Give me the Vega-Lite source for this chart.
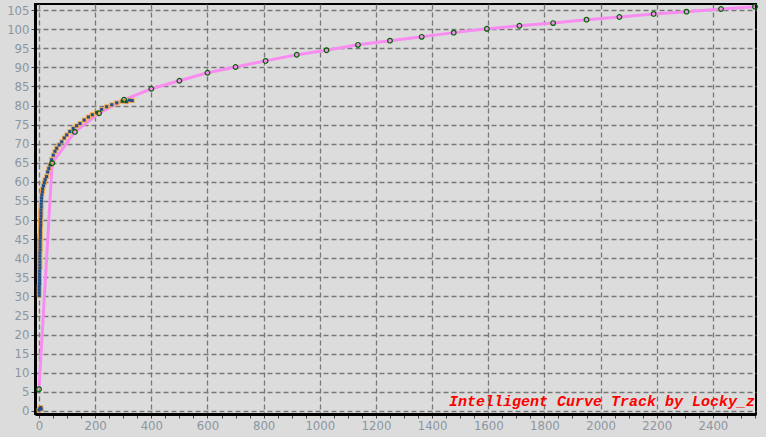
{
  "$schema": "https://vega.github.io/schema/vega-lite/v6.json",
  "autosize": {"type": "none"},
  "width": 721,
  "height": 410,
  "padding": {"left": 35, "top": 4, "right": 10, "bottom": 23},
  "background": "#DCDCDC",
  "config": {
    "view": {"stroke": "#000000", "strokeWidth": 2, "fill": "#DCDCDC"},
    "axis": {
      "labelFont": "Liberation Sans Narrow, DejaVu Sans Condensed, Liberation Sans",
      "labelFontSize": 13,
      "labelColor": "#8C96A0",
      "tickColor": "#444444",
      "tickSize": 4,
      "domainColor": "#000000",
      "domainWidth": 3,
      "gridColor": "#777777",
      "gridDash": [5, 3],
      "gridWidth": 1.3,
      "title": null
    }
  },
  "datasets": {
    "pink": [
      {"x": 0, "y": 5.7}, {"x": 47, "y": 64.9}, {"x": 128, "y": 73.1}, {"x": 214, "y": 78.0},
      {"x": 303, "y": 81.5}, {"x": 400, "y": 84.4}, {"x": 500, "y": 86.5}, {"x": 600, "y": 88.6},
      {"x": 700, "y": 90.1}, {"x": 807, "y": 91.7}, {"x": 918, "y": 93.3}, {"x": 1024, "y": 94.5},
      {"x": 1136, "y": 95.9}, {"x": 1250, "y": 97.0}, {"x": 1363, "y": 98.0}, {"x": 1477, "y": 99.1},
      {"x": 1595, "y": 100.1}, {"x": 1711, "y": 100.9}, {"x": 1831, "y": 101.6}, {"x": 1950, "y": 102.5},
      {"x": 2067, "y": 103.2}, {"x": 2189, "y": 104.0}, {"x": 2306, "y": 104.6}, {"x": 2429, "y": 105.3},
      {"x": 2550, "y": 105.9}
    ],
    "red": [
      {"x": 0, "y": 30}, {"x": -3, "y": 32}, {"x": 1, "y": 34}, {"x": -4, "y": 36}, {"x": 0, "y": 38},
      {"x": -3, "y": 40}, {"x": 2, "y": 41.5}, {"x": -2, "y": 43}, {"x": 1, "y": 45}, {"x": -1, "y": 46.5},
      {"x": 3, "y": 48}, {"x": 0, "y": 49.5}, {"x": 4, "y": 51}, {"x": 2, "y": 52.5}, {"x": 6, "y": 54},
      {"x": 4, "y": 55.5}, {"x": 9, "y": 56.5}, {"x": 7, "y": 57}
    ],
    "blue": [
      {"x": 1, "y": 30}, {"x": 2, "y": 36}, {"x": 3, "y": 42}, {"x": 5, "y": 48}, {"x": 7, "y": 53}, {"x": 10, "y": 57}
    ],
    "fit": [
      {"x": 1, "y": 30.2}, {"x": 1, "y": 31}, {"x": 1, "y": 31.8}, {"x": 1, "y": 32.6}, {"x": 2, "y": 33.4},
      {"x": 2, "y": 34.2}, {"x": 2, "y": 35}, {"x": 2, "y": 35.8}, {"x": 2, "y": 36.6}, {"x": 3, "y": 37.4},
      {"x": 3, "y": 38.2}, {"x": 3, "y": 39}, {"x": 3, "y": 39.8}, {"x": 3, "y": 40.6}, {"x": 3, "y": 41.4},
      {"x": 4, "y": 42.2}, {"x": 4, "y": 43}, {"x": 4, "y": 43.8}, {"x": 4, "y": 44.6}, {"x": 5, "y": 45.4},
      {"x": 5, "y": 46.2}, {"x": 5, "y": 47}, {"x": 5, "y": 47.8}, {"x": 6, "y": 48.6}, {"x": 6, "y": 49.4},
      {"x": 6, "y": 50.2}, {"x": 7, "y": 51}, {"x": 7, "y": 51.8}, {"x": 7, "y": 52.6}, {"x": 8, "y": 53.4},
      {"x": 8, "y": 54.2}, {"x": 9, "y": 55}, {"x": 9, "y": 55.8}, {"x": 10, "y": 56.6}, {"x": 12, "y": 57.4},
      {"x": 13, "y": 58.2}, {"x": 16, "y": 59}, {"x": 19, "y": 59.8}, {"x": 22, "y": 60.6}, {"x": 27, "y": 61.4},
      {"x": 31, "y": 62.6}, {"x": 35, "y": 63.5}, {"x": 39, "y": 64.4}, {"x": 45, "y": 65.8}, {"x": 51, "y": 67},
      {"x": 57, "y": 68}, {"x": 63, "y": 68.8}, {"x": 72, "y": 69.7}, {"x": 81, "y": 70.5}, {"x": 90, "y": 71.5},
      {"x": 99, "y": 72.3}, {"x": 110, "y": 73.2}, {"x": 122, "y": 74}, {"x": 134, "y": 74.7}, {"x": 146, "y": 75.3},
      {"x": 161, "y": 76.2}, {"x": 176, "y": 77}, {"x": 190, "y": 77.6}, {"x": 205, "y": 78.2}, {"x": 223, "y": 79},
      {"x": 241, "y": 79.7}, {"x": 259, "y": 80.2}, {"x": 277, "y": 80.7}, {"x": 296, "y": 81.1}, {"x": 312, "y": 81.0},
      {"x": 322, "y": 81.4}, {"x": 332, "y": 81.3},
      {"x": 0, "y": 0.2}, {"x": 3, "y": 0.6}, {"x": 6, "y": 0.9}, {"x": 8, "y": 0.5}
    ]
  },
  "layer": [
    {
      "encoding": {
        "x": {
          "field": "x", "type": "quantitative",
          "scale": {"domain": [-14.2, 2553.5], "nice": false, "zero": false},
          "axis": {
            "values": [0,50,100,150,200,250,300,350,400,450,500,550,600,650,700,750,800,850,900,950,1000,1050,1100,1150,1200,1250,1300,1350,1400,1450,1500,1550,1600,1650,1700,1750,1800,1850,1900,1950,2000,2050,2100,2150,2200,2250,2300,2350,2400,2450,2500,2550],
            "labelExpr": "datum.value % 200 == 0 ? '' + datum.value : ''",
            "labelPadding": 1,
            "labelFlush": false,
            "labelOverlap": false,
            "grid": true,
            "gridOpacity": {"condition": {"test": "datum.value % 200 == 0", "value": 1}, "value": 0}
          }
        },
        "y": {
          "field": "y", "type": "quantitative",
          "scale": {"domain": [-0.8, 106.6], "nice": false, "zero": false},
          "axis": {
            "values": [0,5,10,15,20,25,30,35,40,45,50,55,60,65,70,75,80,85,90,95,100,105],
            "labelPadding": 2,
            "labelOverlap": false,
            "grid": true
          }
        }
      },
      "layer": [
        {"data": {"name": "pink"}, "mark": {"type": "line", "color": "#F98CF0", "strokeWidth": 3}},
        {"data": {"name": "red"}, "mark": {"type": "line", "color": "#FF3C00", "strokeWidth": 2}},
        {"data": {"name": "blue"}, "mark": {"type": "line", "color": "#1E5AA0", "strokeWidth": 2.5}},
        {"data": {"name": "fit"}, "mark": {"type": "point", "shape": "square", "filled": true, "size": 24, "color": "#F0A850", "opacity": 1}},
        {"data": {"name": "fit"}, "mark": {"type": "point", "shape": "square", "filled": true, "size": 9, "color": "#1E4F91", "opacity": 1}},
        {"data": {"name": "pink"}, "mark": {"type": "point", "shape": "circle", "filled": false, "size": 22, "stroke": "#006400", "strokeWidth": 1.2, "opacity": 1}}
      ]
    },
    {
      "data": {"values": [{"label": "Intelligent Curve Track by Locky_z"}]},
      "mark": {"type": "text", "align": "right", "baseline": "alphabetic", "font": "Liberation Mono", "fontStyle": "italic", "fontWeight": "bold", "fontSize": 15, "color": "#FF0000"},
      "encoding": {
        "x": {
          "datum": 2550, "type": "quantitative",
          "axis": {
            "values": [0,50,100,150,200,250,300,350,400,450,500,550,600,650,700,750,800,850,900,950,1000,1050,1100,1150,1200,1250,1300,1350,1400,1450,1500,1550,1600,1650,1700,1750,1800,1850,1900,1950,2000,2050,2100,2150,2200,2250,2300,2350,2400,2450,2500,2550],
            "labelExpr": "datum.value % 200 == 0 ? '' + datum.value : ''",
            "labelPadding": 1,
            "labelFlush": false,
            "labelOverlap": false,
            "grid": true,
            "gridOpacity": {"condition": {"test": "datum.value % 200 == 0", "value": 1}, "value": 0}
          }
        },
        "y": {
          "datum": 1.3, "type": "quantitative",
          "axis": {
            "values": [0,5,10,15,20,25,30,35,40,45,50,55,60,65,70,75,80,85,90,95,100,105],
            "labelPadding": 2,
            "labelOverlap": false,
            "grid": true
          }
        },
        "text": {"field": "label", "type": "nominal"}
      }
    }
  ]
}
